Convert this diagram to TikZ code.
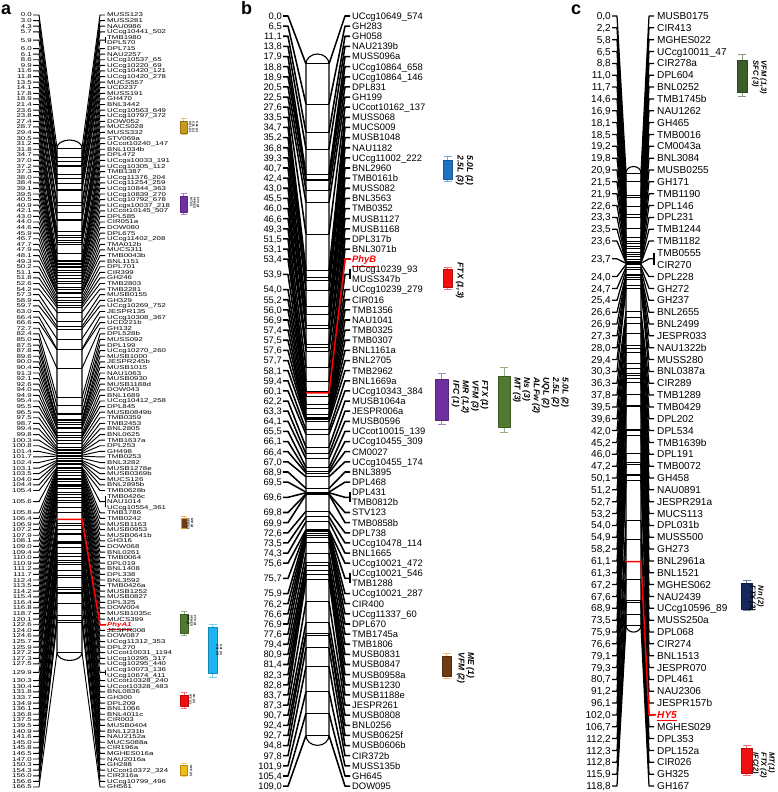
\documentclass[tikz,border=0pt]{standalone}
\usepackage{fontspec}
\setmainfont{Liberation Sans}
\newfontfamily\stretchfont[FakeStretch=1.4]{Liberation Sans}
\usetikzlibrary{arrows.meta}

\definecolor{qgold}{HTML}{C99A1E}
\definecolor{qpurple}{HTML}{7030A0}
\definecolor{qbrown}{HTML}{6E3B12}
\definecolor{qorange}{HTML}{E0962A}
\definecolor{qgreen}{HTML}{4F7A30}
\definecolor{qcyan}{HTML}{1DB4F2}
\definecolor{qred}{HTML}{F20F0F}
\definecolor{qyellow}{HTML}{F2BA14}
\definecolor{qblue}{HTML}{1F73C4}
\definecolor{qnavy}{HTML}{15295C}
\definecolor{qdkgreen}{HTML}{3C5F2A}

\newcommand\gene[1]{\textcolor{red}{\bfseries\itshape\underline{#1}}}

\begin{document}
\begin{tikzpicture}[
  x=1pt, y=-1pt,
  line join=round,
  declare function={
    ya(\p)=148+3.03*\p; ra(\q)=15+(\q-1)*5.594;
    yb(\p)=64+6.16*\p;  rb(\q)=16+(\q-1)*10.133;
    yc(\p)=173+3.81*\p; rc(\q)=16+(\q-1)*11.846;},
  chrom/.style={draw, fill=white, line width=1.1pt},
  conn/.style={draw, line width=1.25pt},
  connb/.style={draw, line width=1.55pt},
  conna/.style={draw, line width=0.95pt},
  bline/.style={draw, line width=1pt},
  blinea/.style={draw, line width=0.7pt},
  geneline/.style={draw=red, line width=1.5pt},
  posa/.style={font=\stretchfont\fontsize{5.6}{5.6}\selectfont, anchor=east,
    inner sep=1pt, text height=4pt, text depth=0pt},
  namea/.style={posa, anchor=west},
  posb/.style={font=\fontsize{9.4}{10}\selectfont, anchor=east,
    inner sep=1pt, text height=6.7pt, text depth=0pt},
  nameb/.style={posb, anchor=west},
  posc/.style={font=\fontsize{10.1}{11}\selectfont, anchor=east,
    inner sep=1pt, text height=7.2pt, text depth=0pt},
  namec/.style={posc, anchor=west},
  panel/.style={font=\bfseries\fontsize{18}{18}\selectfont, anchor=base west, inner sep=0pt},
  whisk/.style={draw=#1!60, line width=0.8pt, arrows={Bar[width=8pt]-Bar[width=8pt]}},
  smallwhisk/.style={whisk=#1, arrows={Bar[width=6pt]-Bar[width=6pt]}},
  qtlbox/.style={draw=#1!75!black, fill=#1, line width=0.4pt, inner sep=0pt},
  qtltext/.style={font=\bfseries\itshape\fontsize{8.5}{9.6}\selectfont, rotate=-90,
    anchor=north west, align=left, inner sep=0.5pt},
  qtltexta/.style={qtltext, font=\bfseries\itshape\fontsize{3}{3.4}\selectfont},
  qtltextc/.style={qtltext, font=\bfseries\itshape\fontsize{7.5}{8}\selectfont}
]
\useasboundingbox (0,0) rectangle (778,792);

% ------------------------------------------------------------------
% Linkage group a
% ------------------------------------------------------------------
\node[panel] (a-tag) at (1,15) {a};
\draw[chrom] (57,148) -- (57,652.5)
  arc[start angle=180,end angle=0,x radius=12.5,y radius=8]
  -- (82,148) arc[start angle=0,end angle=-180,x radius=12.5,y radius=8] -- cycle;

\gdef\arow{1}
\foreach \ci/\cd/\n [count=\k] in {0/0/1,3/0/1,4/3/1,5/7/1,5/9/2,6/0/1,6/1/1,8/6/1,
  9/9/1,11/6/1,11/8/1,13/5/1,14/1/1,17/8/1,18/9/1,21/4/1,23/6/1,23/8/1,27/4/1,
  28/7/1,29/4/1,30/5/1,31/2/1,31/8/1,34/7/1,37/0/1,37/2/1,37/3/1,38/0/1,38/4/1,
  39/1/1,39/5/1,40/5/1,40/9/1,42/1/1,43/0/1,44/0/1,44/6/1,45/9/1,46/7/1,47/7/1,
  47/9/1,48/1/1,49/3/1,50/2/1,51/1/1,51/8/1,52/6/1,54/2/1,57/3/1,58/9/1,59/7/1,
  63/0/1,66/4/1,66/6/1,72/7/1,82/4/1,85/0/1,87/5/1,87/8/1,89/6/1,90/0/1,90/4/1,
  91/3/1,92/1/1,92/6/1,94/0/1,94/9/1,95/4/1,95/5/1,96/5/1,97/5/1,98/7/1,99/4/1,
  99/8/1,100/3/1,100/8/1,101/4/1,101/7/1,102/4/1,103/1/1,103/5/1,104/0/1,104/4/1,
  105/4/1,105/6/3,105/8/1,106/4/1,106/9/1,107/2/1,107/9/1,108/1/1,109/0/1,109/4/1,
  110/0/1,110/9/1,111/2/1,111/7/1,112/4/1,113/5/1,114/2/1,115/4/1,116/4/1,116/8/1,
  118/7/1,120/1/1,122/6/1,124/0/1,124/6/1,125/7/1,125/9/1,127/2/1,127/3/1,127/5/1,
  129/9/2,130/3/1,130/4/1,131/8/1,133/7/1,134/9/1,136/1/1,136/8/1,137/5/1,139/5/1,
  140/9/1,141/6/1,145/0/1,145/8/1,146/5/1,147/0/1,150/3/1,154/3/1,156/0/1,156/6/1,
  166/5/1}{
  \pgfmathsetmacro\ylab{ra(\arow+(\n-1)/2)}
  \pgfmathsetmacro\ybar{ya(\ci.\cd)}
  \node[posa] (a-p\k) at (33,\ylab) {\ci.\cd};
  \coordinate (a-l\k) at (39,\ylab);
  \coordinate (a-bl\k) at (57,\ybar);
  \coordinate (a-br\k) at (82,\ybar);
  \coordinate (a-r\k) at (100,\ylab);
  \coordinate (a-t\k) at (105,\ylab);
  \draw[conna] (a-p\k) -- (a-l\k) -- (a-bl\k);
  \draw[blinea] (a-bl\k) -- (a-br\k);
  \draw[conna] (a-br\k) -- (a-r\k) -- (a-t\k);
  \ifnum\n>1 \draw[conna] (105,{ra(\arow)}) -- (105,{ra(\arow+\n-1)}); \fi
  \pgfmathsetmacro\nxt{\arow+\n}
  \xdef\arow{\nxt}
}
\foreach \nm [count=\j] in {MUSS123,MUSS281,NAU0986,UCcg10441\_502,TMB1980,DPL570,
  DPL715,NAU2257,UCcg10537\_65,UCcg10220\_69,UCcg10420\_121,UCcg10420\_278,MUCS557,
  UCD237,MUSS191,GH470,BNL3442,UCcg10563\_649,UCcg10797\_372,DOW052,MUCS028,MUSS332,
  STV069a,UCcot10240\_147,BNL1034b,DPL472,UCcgs10033\_191,UCcg10305\_112,TMB1387,
  UCcg11376\_204,UCcg11254\_259,UCcg10844\_363,UCcg10839\_270,UCcg10792\_678,
  UCcgs10037\_218,UCcot10145\_507,DPL585,CIR051a,DOW080,DPL675,UCcg11402\_208,
  TMA012b,MUCS311,TMB0043b,BNL1151,DPL701,CIR399,GH246,TMB2803,TMB2281,MUSB0155,
  GH329,UCcg10269\_752,JESPR135,UCcg10308\_367,UCD221b,GH132,DPL528b,MUSS092,DPL199,
  UCcg10270\_260,MUSB1000,JESPR245b,MUSB1015,NAU1063,MUSB0930,MUSB1188d,DOW043,
  BNL1689,UCcg10412\_258,DPL845,MUSB0849b,TMB0359,TMB2453,BNL2805,BNL0625,TMB1637a,
  DPL253,GH498,TMB0253,BNL3282,MUSB1278e,MUSB0369b,MUCS126,BNL2895b,TMB0628b,
  TMB0426c,NAU1014,UCcg10554\_361,TMB1786,TMB0242,MUSB1163,MUSB0953,MUSB0641b,GH316,
  DOW068,BNL0261,TMB0064,DPL019,BNL1408,DPL338,BNL3592,TMB0426a,MUSB1252,MUSB0827,
  DPL325,DOW004,MUSB1035c,MUCS399,\gene{PhyA1},JESPR008,DOW087,UCcg11312\_353,DPL270,
  UCcot10031\_1194,UCcg10295\_317,UCcg10295\_440,UCcg10073\_136,UCcg10674\_411,
  UCcot10328\_240,UCcot10328\_483,BNL0836,GH300,DPL209,BNL1066,BNL4011c,CIR003,
  MUSB0404,BNL1231b,NAU2152a,MUCS088a,CIR196a,MGHES016a,NAU2016a,GH288,
  UCcot10372\_324,CIR316a,UCcg10799\_496,GH561}
  \node[namea] (a-n\j) at (106,{ra(\j)}) {\nm};
\draw[geneline] (a-bl107) -- (a-br107) -- (a-r107) -- (a-n110.west);

% QTL bars of group a
\draw[smallwhisk=qgold] (183.5,118) -- (183.5,135);
\node[qtlbox=qgold, minimum width=7pt, minimum height=12pt] (a-q1) at (183.5,127) {};
\node[qtltexta] (a-qt1) at (199,121) {5.0L (1)\\2.5L (1)\\UQL (1)};
\draw[smallwhisk=qpurple] (183.5,193) -- (183.5,215);
\node[qtlbox=qpurple, minimum width=7pt, minimum height=16pt] (a-q2) at (183.5,204) {};
\node[qtltexta] (a-qt2) at (200,197) {FTX (2)\\VFM (2)\\MT (2)};
\draw[smallwhisk=qorange] (184,516) -- (184,529);
\node[qtlbox=qbrown, draw=qorange, minimum width=6pt, minimum height=10pt] (a-q3) at (184,523) {};
\node[qtltexta] (a-qt3) at (194,518) {ME (2)\\VFM (1)};
\draw[smallwhisk=qgreen] (184,611) -- (184,636);
\node[qtlbox=qgreen, minimum width=8pt, minimum height=19pt] (a-q4) at (184,623.5) {};
\node[qtltexta] (a-qt4) at (197,615) {FTX (1)\\VFM (3)\\MR (1)};
\draw[whisk=qcyan] (212.5,624) -- (212.5,678);
\node[qtlbox=qcyan, minimum width=9pt, minimum height=46pt] (a-q5) at (212.5,650) {};
\node[qtltexta] (a-qt5) at (223,644) {5.0L (3)\\2.5L (3)};
\draw[smallwhisk=qred] (184,692) -- (184,709);
\node[qtlbox=qred, minimum width=8pt, minimum height=11pt] (a-q6) at (184,700.5) {};
\node[qtltexta] (a-qt6) at (196,694) {Ns (2)\\IFC (1)};
\draw[smallwhisk=qyellow] (183.5,763) -- (183.5,777);
\node[qtlbox=qyellow, minimum width=7pt, minimum height=10pt] (a-q7) at (183.5,770) {};
\node[qtltexta] (a-qt7) at (193,765) {SFC (2)};

% ------------------------------------------------------------------
% Linkage group b
% ------------------------------------------------------------------
\node[panel] (b-tag) at (241,15) {b};
\draw[chrom] (306,64) -- (306,735.4)
  arc[start angle=180,end angle=0,x radius=11.5,y radius=10]
  -- (329,64) arc[start angle=0,end angle=-180,x radius=11.5,y radius=10] -- cycle;

\gdef\brow{1}
\foreach \ci/\cd/\n [count=\k] in {0/0/1,6/5/1,11/1/1,13/8/1,17/9/1,18/8/1,18/9/1,
  20/5/1,22/5/1,27/6/1,33/5/1,34/7/1,35/2/1,36/8/1,39/3/1,40/7/1,42/4/1,43/0/1,
  45/5/1,46/0/1,46/6/1,49/3/1,51/5/1,53/1/1,53/4/1,53/9/2,54/0/1,55/2/1,56/0/1,
  56/9/1,57/4/1,57/5/1,57/6/1,57/7/1,58/1/1,59/4/1,60/1/1,62/2/1,63/3/1,64/1/1,
  65/5/1,66/1/1,66/4/1,67/0/1,68/9/1,69/5/1,69/6/2,69/8/1,69/9/1,72/6/1,73/5/1,
  74/3/1,75/6/1,75/7/2,75/9/1,76/2/1,76/6/1,76/9/1,77/6/1,79/4/1,80/9/1,81/4/1,
  82/3/1,82/8/1,83/7/1,87/3/1,90/7/1,92/4/1,92/7/1,94/8/1,97/8/1,101/9/1,105/4/1,
  109/0/1}{
  \pgfmathsetmacro\ylab{rb(\brow+(\n-1)/2)}
  \pgfmathsetmacro\ybar{yb(\ci.\cd)}
  \node[posb] (b-p\k) at (283,\ylab) {\ci,\cd};
  \coordinate (b-l\k) at (288,\ylab);
  \coordinate (b-bl\k) at (306,\ybar);
  \coordinate (b-br\k) at (329,\ybar);
  \coordinate (b-r\k) at (345,\ylab);
  \coordinate (b-t\k) at (350,\ylab);
  \draw[connb] (b-p\k) -- (b-l\k) -- (b-bl\k);
  \draw[bline] (b-bl\k) -- (b-br\k);
  \draw[connb] (b-br\k) -- (b-r\k) -- (b-t\k);
  \ifnum\n>1 \draw[conn] (350,{rb(\brow)}) -- (350,{rb(\brow+\n-1)}); \fi
  \pgfmathsetmacro\nxt{\brow+\n}
  \xdef\brow{\nxt}
}
\foreach \nm [count=\j] in {UCcg10649\_574,GH283,GH058,NAU2139b,MUSS096a,
  UCcg10864\_658,UCcg10864\_146,DPL831,GH199,UCcot10162\_137,MUSS068,MUCS009,
  MUSB1048,NAU1182,UCcg11002\_222,BNL2960,TMB0161b,MUSS082,BNL3563,TMB0352,MUSB1127,
  MUSB1168,DPL317b,BNL3071b,\gene{PhyB},UCcg10239\_93,MUSS347b,UCcg10239\_279,CIR016,
  TMB1356,NAU1041,TMB0325,TMB0307,BNL1161a,BNL2705,TMB2962,BNL1669a,UCcg10343\_384,
  MUSB1064a,JESPR006a,MUSB0596,UCcot10015\_139,UCcg10455\_309,CM0027,UCcg10455\_174,
  BNL3895,DPL468,DPL431,TMB0812b,STV123,TMB0858b,DPL738,UCcg10478\_114,BNL1665,
  UCcg10021\_472,UCcg10021\_546,TMB1288,UCcg10021\_287,CIR400,UCcg11337\_60,DPL670,
  TMB1745a,TMB1806,MUSB0831,MUSB0847,MUSB0958a,MUSB1230,MUSB1188e,JESPR261,MUSB0808,
  BNL0256,MUSB0625f,MUSB0606b,CIR372b,MUSS135b,GH645,DOW095}
  \node[nameb] (b-n\j) at (351,{rb(\j)}) {\nm};
\draw[geneline] (b-bl25) -- (b-br25) -- (b-r25) -- (b-n25.west);

% QTL bars of group b
\draw[whisk=qblue] (447.5,156) -- (447.5,182);
\node[qtlbox=qblue, minimum width=9pt, minimum height=19pt] (b-q1) at (447.5,169.5) {};
\node[qtltext] (b-qt1) at (474,155) {5.0L (1)\\2.5L (3)};
\draw[whisk=qred] (447.5,267) -- (447.5,290);
\node[qtlbox=qred, minimum width=9pt, minimum height=18pt] (b-q2) at (447.5,278) {};
\node[qtltext] (b-qt2) at (464.5,262) {FTX (1,3)};
\draw[whisk=qpurple] (441.5,373) -- (441.5,425);
\node[qtlbox=qpurple, minimum width=13pt, minimum height=41pt] (b-q3) at (441.5,399.5) {};
\node[qtltext] (b-qt3) at (489,380) {FTX (1)\\VFM (3)\\MR (1,2)\\IFC (1)};
\draw[whisk=qgreen] (504,367) -- (504,433);
\node[qtlbox=qgreen, minimum width=12pt, minimum height=51pt] (b-q4) at (504,401.5) {};
\node[qtltext] (b-qt4) at (569.5,377) {5.0L (2)\\2.5L (2)\\UQL (2)\\ALFw (2)\\Ns (3)\\MT (3)};
\draw[whisk=qorange] (446.5,653) -- (446.5,679);
\node[qtlbox=qbrown, minimum width=9pt, minimum height=20pt] (b-q5) at (446.5,666) {};
\node[qtltext] (b-qt5) at (475,652) {ME (1)\\VFM (2)};

% ------------------------------------------------------------------
% Linkage group c
% ------------------------------------------------------------------
\node[panel] (c-tag) at (571,15) {c};
\draw[chrom] (626,173) -- (626,625.6)
  arc[start angle=180,end angle=0,x radius=7.5,y radius=6.5]
  -- (641,173) arc[start angle=0,end angle=-180,x radius=7.5,y radius=6.5] -- cycle;

\gdef\crow{1}
\foreach \ci/\cd/\n [count=\k] in {0/0/1,2/2/1,5/8/1,6/5/1,8/8/1,11/0/1,11/7/1,
  14/6/1,16/9/1,18/1/1,18/5/1,19/2/1,19/8/1,20/9/1,21/5/1,21/9/1,22/6/1,23/3/1,
  23/5/1,23/6/1,23/7/2,24/0/1,24/7/1,25/4/1,26/6/1,26/9/1,27/3/1,28/0/1,29/4/1,
  30/3/1,36/3/1,37/8/1,39/5/1,39/6/1,42/0/1,45/2/1,46/0/1,47/2/1,50/1/1,51/2/1,
  52/7/1,53/2/1,54/0/1,54/9/1,58/2/1,61/1/1,61/3/1,67/2/1,67/6/1,68/9/1,73/5/1,
  75/9/1,76/6/1,79/1/1,79/3/1,80/7/1,91/2/1,96/1/1,102/0/1,106/7/1,112/2/1,
  112/3/1,112/8/1,115/9/1,118/8/1}{
  \pgfmathsetmacro\ylab{rc(\crow+(\n-1)/2)}
  \pgfmathsetmacro\ybar{yc(\ci.\cd)}
  \node[posc] (c-p\k) at (612,\ylab) {\ci,\cd};
  \coordinate (c-l\k) at (617,\ylab);
  \coordinate (c-bl\k) at (626,\ybar);
  \coordinate (c-br\k) at (641,\ybar);
  \coordinate (c-r\k) at (649,\ylab);
  \coordinate (c-t\k) at (654,\ylab);
  \draw[conn] (c-p\k) -- (c-l\k) -- (c-bl\k);
  \draw[bline] (c-bl\k) -- (c-br\k);
  \draw[conn] (c-br\k) -- (c-r\k) -- (c-t\k);
  \ifnum\n>1 \draw[conn] (654,{rc(\crow)}) -- (654,{rc(\crow+\n-1)}); \fi
  \pgfmathsetmacro\nxt{\crow+\n}
  \xdef\crow{\nxt}
}
\foreach \nm [count=\j] in {MUSB0175,CIR413,MGHES022,UCcg10011\_47,CIR278a,DPL604,
  BNL0252,TMB1745b,NAU1262,GH465,TMB0016,CM0043a,BNL3084,MUSB0255,GH171,TMB1190,
  DPL146,DPL231,TMB1244,TMB1182,TMB0555,CIR270,DPL228,GH272,GH237,BNL2655,BNL2499,
  JESPR033,NAU1322b,MUSS280,BNL0387a,CIR289,TMB1289,TMB0429,DPL202,DPL534,TMB1639b,
  DPL191,TMB0072,GH458,NAU0891,JESPR291a,MUCS113,DPL031b,MUSS500,GH273,BNL2961a,
  BNL1521,MGHES062,NAU2439,UCcg10596\_89,MUSS250a,DPL068,CIR274,BNL1513,JESPR070,
  DPL461,NAU2306,JESPR157b,\gene{HY5},MGHES029,DPL353,DPL152a,CIR026,GH325,GH167}
  \node[namec] (c-n\j) at (656,{rc(\j)}) {\nm};
\draw[geneline] (c-bl59) -- (c-br59) -- (c-r59) -- (c-n60.west);

% QTL bars of group c
\draw[whisk=qdkgreen] (742,54) -- (742,97);
\node[qtlbox=qdkgreen, minimum width=10pt, minimum height=32pt] (c-q1) at (742,76) {};
\node[qtltextc] (c-qt1) at (767.5,60) {VFM (1,3)\\SFC (3)};
\draw[whisk=qnavy] (746.5,580) -- (746.5,611);
\node[qtlbox=qnavy, minimum width=11pt, minimum height=26pt] (c-q2) at (746.5,596) {};
\node[qtltextc] (c-qt2) at (764.5,585) {Nn (2)\\FTX (3)};
\draw[whisk=qred] (746.5,745) -- (746.5,776);
\node[qtlbox=qred, minimum width=11pt, minimum height=25pt] (c-q3) at (746.5,760.5) {};
\node[qtltextc] (c-qt3) at (775.5,752) {MT(1)\\FTX (2)\\IFC(2)};

\end{tikzpicture}
\end{document}
